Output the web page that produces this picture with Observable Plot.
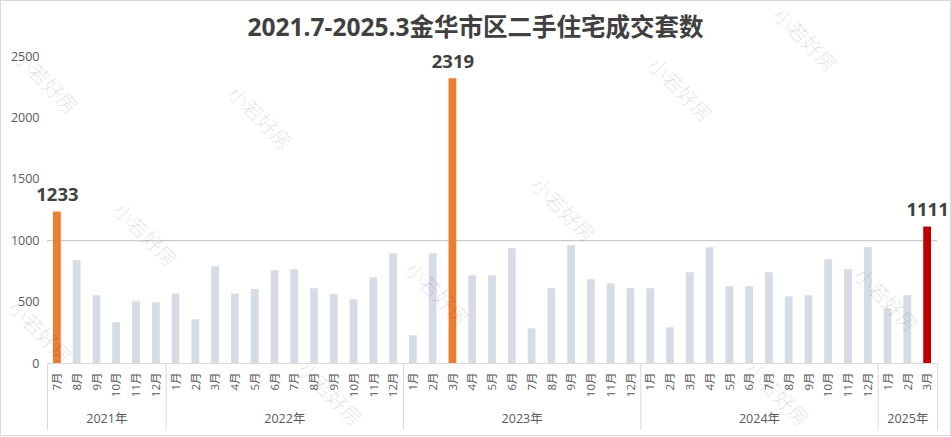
<!DOCTYPE html>
<html>
<head>
<meta charset="utf-8">
<script src="https://cdn.jsdelivr.net/npm/d3@7"></script>
<script src="https://cdn.jsdelivr.net/npm/@observablehq/plot@0.6"></script>
<style>
  body { margin: 0; background: #fff; }
  #chart {
    position: relative; width: 951px; height: 436px; box-sizing: border-box;
    border: 1px solid #d9d9d9; overflow: hidden; background: #fff;
    font-family: "Open Sans", "Noto Sans CJK SC", sans-serif;
  }
  #title {
    height: 40px; box-sizing: border-box; padding-top: 13px; line-height: 26px;
    text-align: center; font-size: 24.5px; font-weight: bold; color: #404040;
    font-family: "Open Sans", "Noto Sans CJK SC", sans-serif;
  }
  #chart svg { overflow: visible; }
  .wm {
    position: absolute; white-space: nowrap; pointer-events: none;
    font-family: "Noto Sans CJK SC", sans-serif; font-weight: 300; font-size: 20px;
    color: rgba(0,0,0,0.13); transform: translate(-50%, -50%) rotate(45deg);
  }
</style>
</head>
<body>
<div id="chart">
  <div id="title">2021.7-2025.3金华市区二手住宅成交套数</div>
</div>
<script>
// ---- data ----
const yearLabels = ["2021年", "2022年", "2023年", "2024年", "2025年"];
const monthsInYear = [6, 12, 12, 12, 3];
const monthLabels = [
  "7月","8月","9月","10月","11月","12月",
  "1月","2月","3月","4月","5月","6月","7月","8月","9月","10月","11月","12月",
  "1月","2月","3月","4月","5月","6月","7月","8月","9月","10月","11月","12月",
  "1月","2月","3月","4月","5月","6月","7月","8月","9月","10月","11月","12月",
  "1月","2月","3月"
];
const values = [
  1233, 837, 552, 332, 503, 495,
  565, 356, 788, 565, 603, 755, 764, 609, 560, 519, 698, 894,
  226, 894, 2319, 715, 715, 935, 283, 609, 959, 682, 649, 609,
  609, 291, 739, 943, 625, 625, 739, 543, 552, 845, 764, 943,
  446, 552, 1111
];
const yTicks = [0, 500, 1000, 1500, 2000, 2500];
const gridValues = [1000];
const labeledIndices = [0, 20, 44];
const watermarkText = "小若好房";

// ---- styles ----
const barGray = "#d6dce5", barOrange = "#ed7d31", barRed = "#c00000";
const highlightColor = {0: barOrange, 20: barOrange, 44: barRed};

const data = values.map((v, i) => ({
  i, value: v, month: monthLabels[i],
  color: highlightColor[i] ?? barGray
}));

const yearGroups = [];
{
  let start = 0;
  yearLabels.forEach((y, k) => {
    yearGroups.push({label: y, start, end: start + monthsInYear[k]});
    start += monthsInYear[k];
  });
}
const boundaries = [0, ...yearGroups.map(g => g.end)];
const labeled = labeledIndices.map(i => data[i]);

const W = 949, H = 394, mL = 46, mR = 13, mT = 15, mB = 72;
const plotH = H - mT - mB;

const chart = Plot.plot({
  width: W, height: H,
  marginLeft: mL, marginRight: mR, marginTop: mT, marginBottom: mB,
  style: {fontFamily: '"Open Sans","Noto Sans CJK SC",sans-serif', fontSize: "12.5px", color: "#595959", background: "#fff", overflow: "visible"},
  x: {type: "linear", domain: [0, values.length], axis: null},
  y: {domain: [0, 2500], ticks: yTicks, tickSize: 0, tickPadding: 8, label: null, tickFormat: d => String(d)},
  color: {type: "identity"},
  marks: [
    Plot.ruleY(gridValues, {stroke: "#bfbfbf", strokeWidth: 1}),
    Plot.rectY(data, {x1: d => d.i, x2: d => d.i + 1, y1: 0, y2: "value", fill: "color", insetLeft: 6, insetRight: 6}),
    Plot.ruleY([0], {stroke: "#d9d9d9", strokeWidth: 1}),
    Plot.ruleX(boundaries, {x: d => d, stroke: "#d9d9d9", strokeWidth: 1, insetTop: plotH, insetBottom: -67}),
    Plot.text(data, {x: d => d.i + 0.5, y: 0, text: "month", rotate: -90, textAnchor: "end", dy: 9, fontSize: 11.5, fill: "#595959"}),
    Plot.text(yearGroups, {x: d => (d.start + d.end) / 2, y: 0, text: "label", dy: 55, fontSize: 12.5, fill: "#595959"}),
    Plot.text(labeled, {x: d => d.i + 0.5, y: "value", text: d => String(d.value), dy: -17, fontSize: 18.5, fontWeight: "bold", fill: "#404040"})
  ]
});

const container = document.getElementById("chart");
container.appendChild(chart);

// watermarks (decorative)
const wmCenters = [[805, 38], [680, 88], [260, 116], [145, 233], [46, 80], [40, 330], [563, 208], [437, 292], [330, 392], [886, 298], [777, 392]];
wmCenters.forEach(([x, y]) => {
  const s = document.createElement("span");
  s.className = "wm";
  s.textContent = watermarkText;
  s.style.left = x + "px";
  s.style.top = y + "px";
  container.appendChild(s);
});
</script>
</body>
</html>
